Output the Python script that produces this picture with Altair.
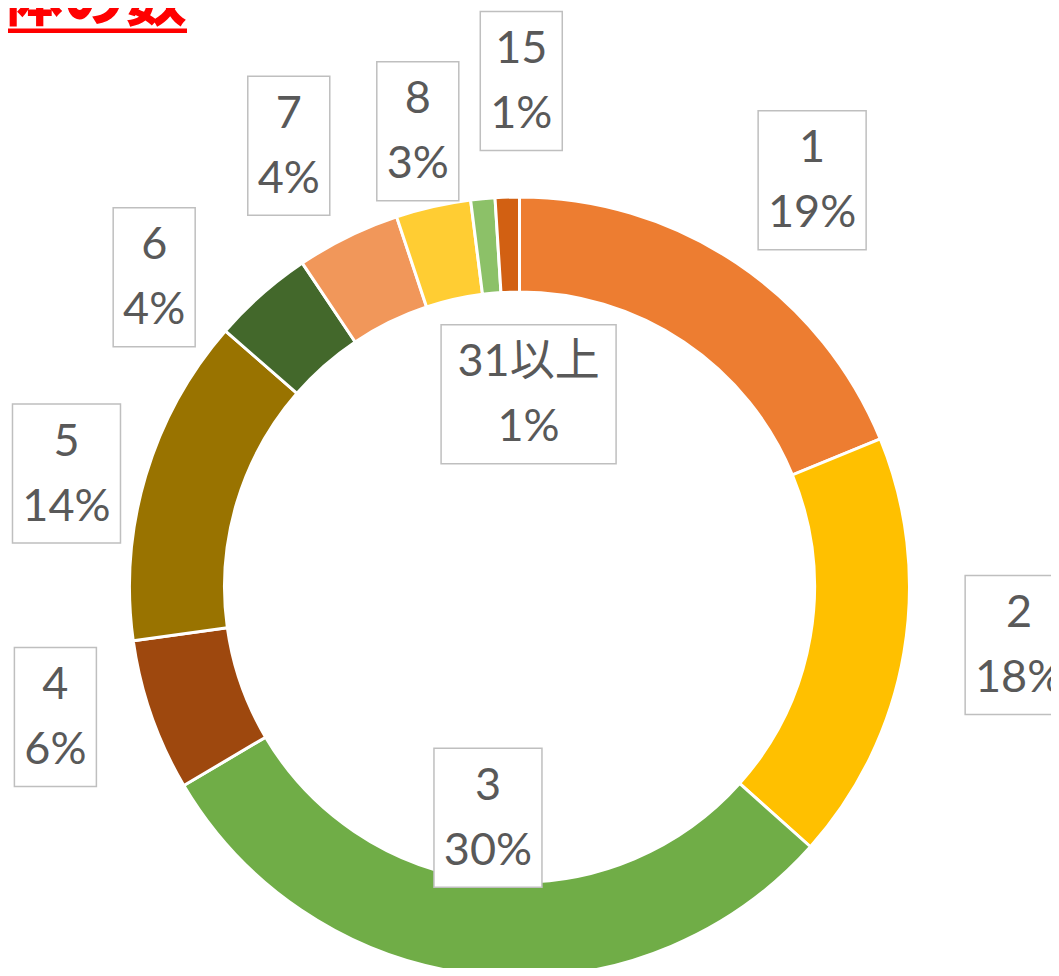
import math
import altair as alt
import pandas as pd

# ---- data ----
categories = ["1", "2", "3", "4", "5", "6", "7", "8", "15", "31以上"]
shares = [18.8, 17.8, 29.9, 6.3, 13.6, 4.2, 4.3, 3.1, 1.0, 1.0]
pct_labels = ["19%", "18%", "30%", "6%", "14%", "4%", "4%", "3%", "1%", "1%"]
title_text = "全体の数"

# ---- styles / layout ----
colors = ["#ED7D31", "#FFC000", "#70AD47", "#9E480E", "#997300",
          "#43682B", "#F1975A", "#FFCD33", "#8CC168", "#D26012"]
label_turn = [1.9, -3.1, 2.2, 3.6, -2.5, -8.3, -1.5, 0.2, 5.6, 4.5]   # degrees off the slice middle
label_dist = [501, 503, 233, 482, 467, 479, 498, 467, 506, 193]       # px from the centre
box_w = [108, 108, 108, 82, 108, 82, 82, 82, 82, 175]
BOX_H = 139
W, H = 1043, 960
CX, CY = 511.5, 579
R_OUT, R_IN = 390, 295
FONT = "Lato, 'Noto Sans CJK JP', sans-serif"

total = sum(shares)
rows = []
cum = 0.0
for i, (c, v, p) in enumerate(zip(categories, shares, pct_labels)):
    mid = (cum + v / 2) / total * 360.0
    cum += v
    a = math.radians(mid + label_turn[i])
    x = label_dist[i] * math.sin(a)
    y = -label_dist[i] * math.cos(a)
    rows.append(dict(cat=c, share=v, pct=p, order=i, x=x, y=y,
                     x0=x - box_w[i] / 2, x1=x + box_w[i] / 2,
                     y0=y - BOX_H / 2, y1=y + BOX_H / 2))
df = pd.DataFrame(rows)

xs = alt.Scale(domain=[-CX, W - CX], nice=False, zero=False)
ys = alt.Scale(domain=[-CY, H - CY], nice=False, zero=False, reverse=True)

base = alt.Chart(df)

arcs = base.mark_arc(outerRadius=R_OUT, innerRadius=R_IN, stroke="white", strokeWidth=3).encode(
    theta=alt.Theta("share:Q", stack=True),
    color=alt.Color("cat:N", scale=alt.Scale(domain=categories, range=colors), legend=None),
    order=alt.Order("order:Q", sort="ascending"),
    x=alt.XDatum(0, type="quantitative", scale=xs, axis=None),
    y=alt.YDatum(0, type="quantitative", scale=ys, axis=None),
)

boxes = base.mark_rect(fill="white", stroke="#BFBFBF", strokeWidth=1.5).encode(
    x=alt.X("x0:Q", scale=xs, axis=None), x2="x1:Q",
    y=alt.Y("y0:Q", scale=ys, axis=None), y2="y1:Q",
)

cat_text = base.mark_text(font=FONT, fontSize=45, color="#595959", dy=-32,
                          align="center", baseline="middle").encode(
    x=alt.X("x:Q", scale=xs, axis=None),
    y=alt.Y("y:Q", scale=ys, axis=None),
    text="cat:N",
)

pct_text = base.mark_text(font=FONT, fontSize=45, color="#595959", dy=33,
                          align="center", baseline="middle").encode(
    x=alt.X("x:Q", scale=xs, axis=None),
    y=alt.Y("y:Q", scale=ys, axis=None),
    text="pct:N",
)

tdf = pd.DataFrame({"t": [title_text]})
title = alt.Chart(tdf).mark_text(font="'Noto Sans CJK JP'", fontWeight="bold", fontSize=62,
                                 color="#FF0000", align="right", baseline="alphabetic").encode(
    text="t:N", x=alt.value(179), y=alt.value(13),
)
underline = alt.Chart(tdf).mark_rule(color="#FF0000", strokeWidth=4.5).encode(
    x=alt.value(-8), x2=alt.value(179), y=alt.value(22.7),
)

chart = alt.layer(arcs, boxes, cat_text, pct_text, title, underline).properties(
    width=W, height=H, padding=0, autosize="none"
).configure_view(stroke=None)

chart.save("out.html", embed_options={"renderer": "svg", "actions": False})
